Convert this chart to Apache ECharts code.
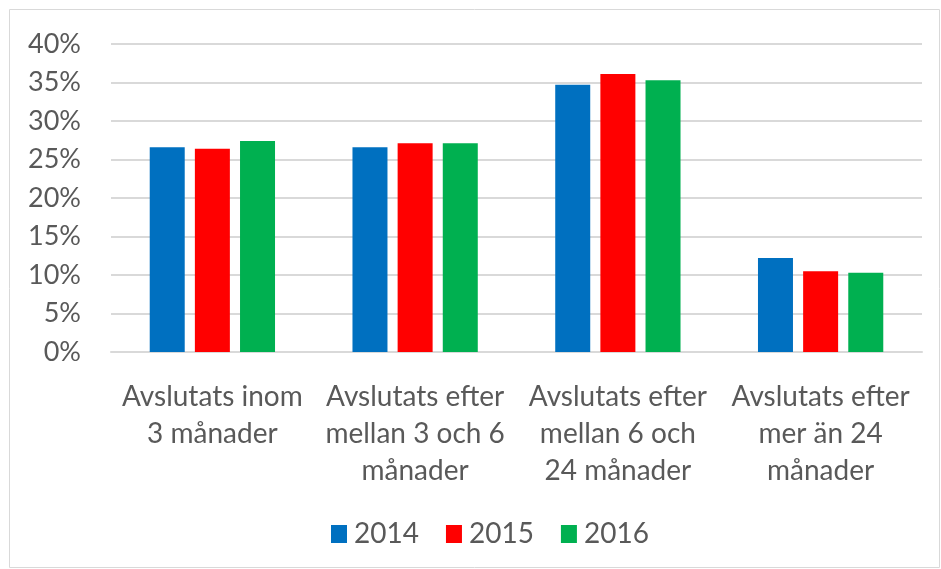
<!DOCTYPE html>
<html><head><meta charset="utf-8">
<script src="https://cdn.jsdelivr.net/npm/echarts@6/dist/echarts.min.js"></script>
<style>html,body{margin:0;padding:0;background:#fff}#c{width:941px;height:569px}</style>
</head><body><div id="c"></div>
<script>
const categories = ['Avslutats inom\n3 månader','Avslutats efter\nmellan 3 och 6\nmånader','Avslutats efter\nmellan 6 och\n24 månader','Avslutats efter\nmer än 24\nmånader'];
const seriesNames = ['2014','2015','2016'];
const v2014 = [26.6, 26.6, 34.7, 12.2];
const v2015 = [26.4, 27.1, 36.1, 10.5];
const v2016 = [27.4, 27.1, 35.3, 10.3];
const yTicks = [0,5,10,15,20,25,30,35,40];
const colors = ['#0070C0','#FF0000','#00B050'];
const FONT = 'Lato';
const chart = echarts.init(document.getElementById('c'));
const data = [v2014, v2015, v2016];
chart.setOption({
  animation:false,
  textStyle:{fontFamily:FONT},
  graphic:[{type:'rect',shape:{x:9.5,y:9.5,width:930,height:558},style:{fill:'none',stroke:'#D9D9D9',lineWidth:1},silent:true}],
  grid:{left:111,right:19,top:44,bottom:217,containLabel:false},
  legend:{bottom:16,left:326,itemWidth:16,itemHeight:18,itemGap:27,icon:'rect',
    textStyle:{fontSize:28,color:'#595959',fontFamily:FONT,padding:[0,0,0,2]},data:seriesNames},
  xAxis:{type:'category',data:categories,
    axisLine:{lineStyle:{color:'#D9D9D9',width:2}},axisTick:{show:false},
    axisLabel:{fontSize:28,color:'#595959',lineHeight:37,margin:26,interval:0,fontFamily:FONT}},
  yAxis:{type:'value',min:yTicks[0],max:yTicks[yTicks.length-1],interval:5,
    axisLine:{show:false},axisTick:{show:false},
    splitLine:{lineStyle:{color:'#D9D9D9',width:2}},
    axisLabel:{fontSize:27,color:'#595959',formatter:v=>v+'%',margin:30,fontFamily:FONT}},
  series:seriesNames.map((n,i)=>({name:n,type:'bar',data:data[i],barWidth:35,barGap:'29%',
    itemStyle:{color:colors[i]}}))
});
</script></body></html>
